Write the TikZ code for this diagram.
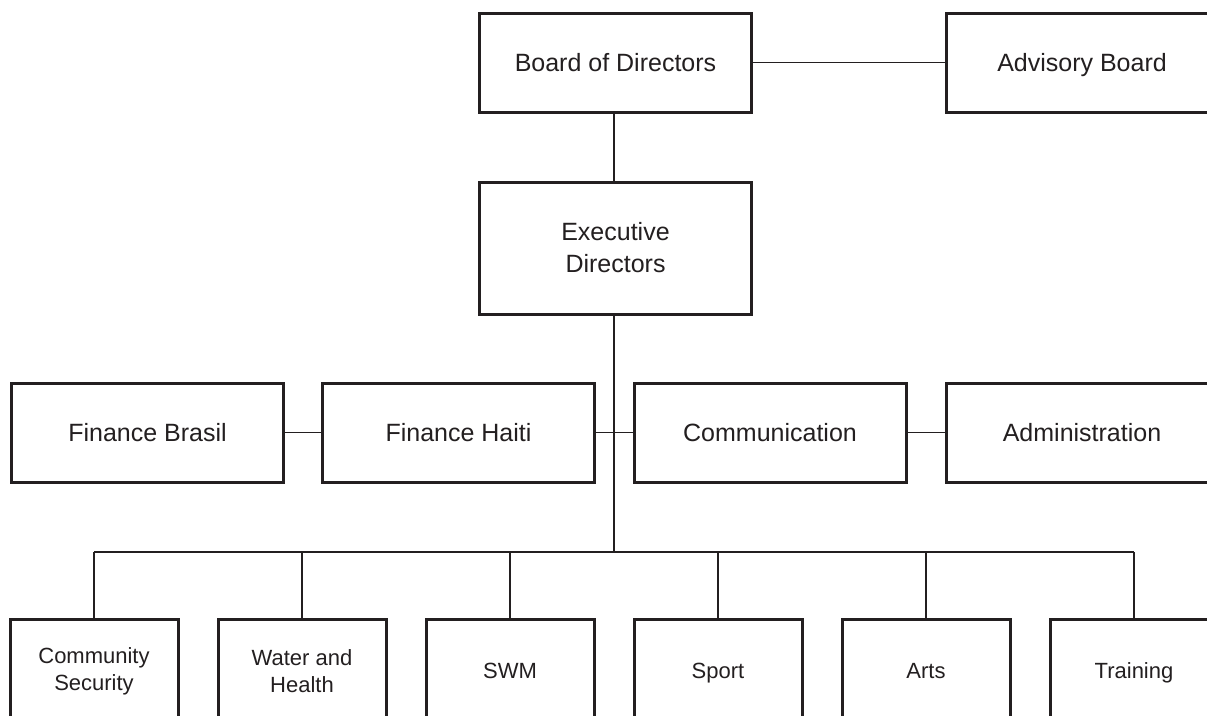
\documentclass[tikz,border=0pt]{standalone}
\usepackage{fontspec}
\setmainfont{Liberation Sans}
\definecolor{ink}{HTML}{231F20}
\begin{document}
\begin{tikzpicture}[x=1pt,y=-1pt,
  box/.style={draw=ink,line width=3pt,inner sep=0pt,align=center,text=ink,
    font=\fontsize{25}{32}\selectfont},
  bigbox/.style={box,text height=17.9pt,text depth=0pt,minimum width=272pt,minimum height=99pt},
  execbox/.style={box,minimum width=272pt,minimum height=132pt},
  unitbox/.style={box,minimum width=168pt,minimum height=104pt,
    font=\fontsize{22}{27}\selectfont},
  unitone/.style={unitbox,text height=15.75pt,text depth=0pt},
  link/.style={draw=ink,line width=1.3pt}]
\clip (0,0) rectangle (1207,715);
\fill[white] (0,0) rectangle (1207,715);
% top row
\node[bigbox] (board) at (615.5,62.5) {Board of Directors};
\node[bigbox] (advisory) at (1082,62.5) {Advisory Board};
% executive
\node[execbox] (exec) at (615.5,248) {Executive\\Directors};
% middle row
\node[bigbox] (fbrasil) at (147.5,432.5) {Finance Brasil};
\node[bigbox] (fhaiti) at (458.5,432.5) {Finance Haiti};
\node[bigbox] (comm) at (770,432.5) {Communication};
\node[bigbox] (admin) at (1082,432.5) {Administration};
% bottom row
\node[unitbox] (cs) at (94,671) {Community\\Security};
\node[unitbox] (wh) at (302,671) {Water and\\Health};
\node[unitone] (swm) at (510,671) {SWM};
\node[unitone] (sport) at (718,671) {Sport};
\node[unitone] (arts) at (926,671) {Arts};
\node[unitone] (train) at (1134,671) {Training};
% connectors
\coordinate (bus) at (614,552);
\draw[link] (board.east) -- (advisory.west);
\draw[link] (board.south -| bus) -- (exec.north -| bus);
\draw[link] (exec.south -| bus) -- (bus);
\draw[link] (fbrasil.east) -- (fhaiti.west);
\draw[link] (fhaiti.east) -- (comm.west);
\draw[link] (comm.east) -- (admin.west);
\draw[link] (cs.north |- bus) -- (train.north |- bus);
\foreach \n in {cs,wh,swm,sport,arts,train}
  \draw[link] (\n.north |- bus) -- (\n.north);
\end{tikzpicture}
\end{document}
